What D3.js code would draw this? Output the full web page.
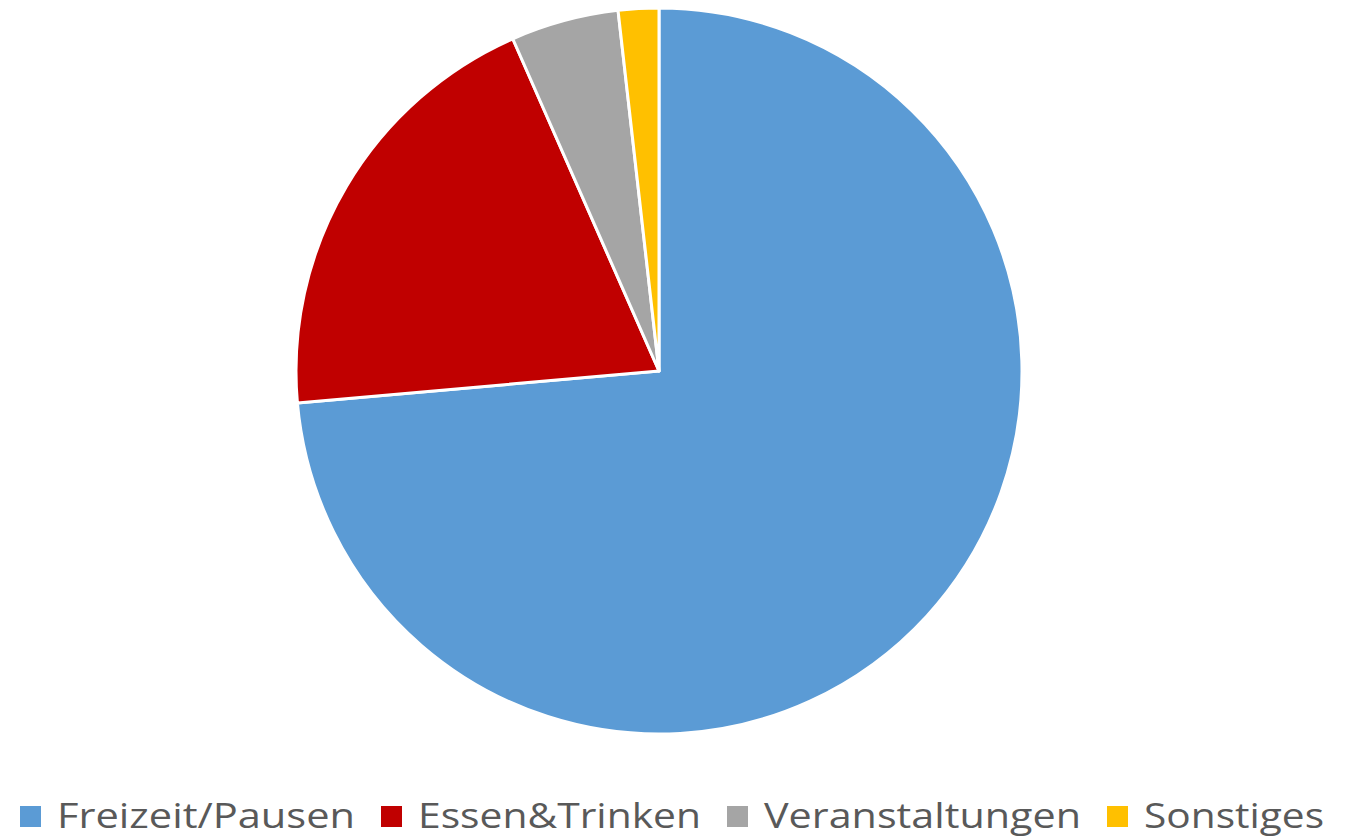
<!DOCTYPE html>
<html>
<head>
<meta charset="utf-8">
<script src="https://cdn.jsdelivr.net/npm/d3@7"></script>
<style>
  body { margin: 0; background: #fff; }
  svg { display: block; }
  .legend text { font-family: "Open Sans", sans-serif; fill: #595959; }
</style>
</head>
<body>
<svg></svg>
<script>
// categories and shares (percent)
var categories = ["Freizeit/Pausen", "Essen&Trinken", "Veranstaltungen", "Sonstiges"];
var values = [73.6, 19.8, 4.8, 1.8];
var colors = ["#5B9BD5", "#C00000", "#A5A5A5", "#FFC000"];

var width = 1355, height = 839;
var cx = 659, cy = 371, radius = 363;

var svg = d3.select("svg")
		.attr("width", width)
		.attr("height", height);

var pie = d3.pie().sort(null).value(function(d) { return d; });
var arc = d3.arc().innerRadius(0).outerRadius(radius);

var color = d3.scaleOrdinal().domain(categories).range(colors);

// slices
svg.append("g")
		.attr("transform", "translate(" + cx + "," + cy + ")")
	.selectAll("path")
	.data(pie(values))
	.enter().append("path")
		.attr("d", arc)
		.attr("fill", function(d, i) { return color(categories[i]); })
		.attr("stroke", "#fff")
		.attr("stroke-width", 3)
		.attr("stroke-linejoin", "round");

// legend - widths
var textWidths = [298, 283, 317, 180];
var sq = 21, gapText = 16, gapItem = 26;
var x = 20;

var legend = svg.append("g").attr("class", "legend");
categories.forEach(function(c, i) {
	legend.append("rect")
		.attr("x", x)
		.attr("y", 806)
		.attr("width", sq)
		.attr("height", sq)
		.attr("fill", color(c));
	legend.append("text")
		.attr("x", x + sq + gapText)
		.attr("y", 828)
		.attr("font-size", 35)
		.attr("textLength", textWidths[i])
		.attr("lengthAdjust", "spacingAndGlyphs")
		.text(c);
	x += sq + gapText + textWidths[i] + gapItem;
});
</script>
</body>
</html>
